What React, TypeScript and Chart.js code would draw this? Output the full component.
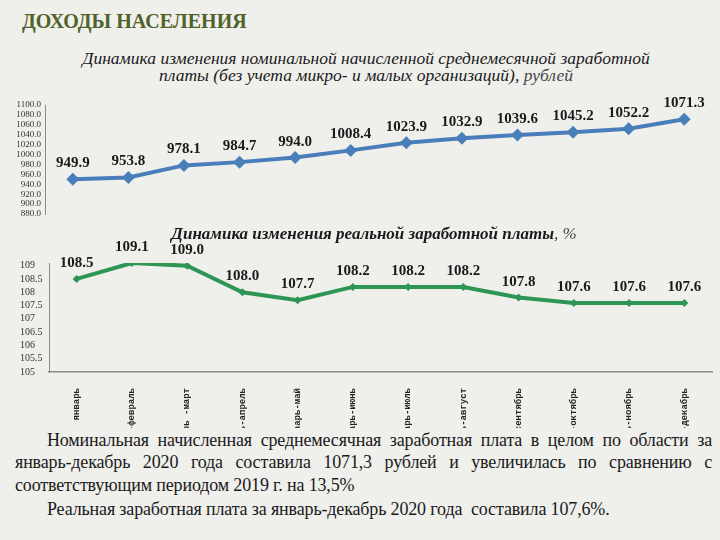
import React, { useEffect, useRef } from "react";
import { Chart, registerables } from "chart.js";

Chart.register(...registerables);

const categories = [
  "январь",
  "январь -февраль",
  "январь -март",
  "январь-апрель",
  "январь-май",
  "январь-июнь",
  "январь-июль",
  "январь-август",
  "январь-сентябрь",
  "январь-октябрь",
  "январь-ноябрь",
  "январь-декабрь",
];
const nominalWage = [949.9, 953.8, 978.1, 984.7, 994.0, 1008.4, 1023.9, 1032.9, 1039.6, 1045.2, 1052.2, 1071.3];
const realWage = [108.5, 109.1, 109.0, 108.0, 107.7, 108.2, 108.2, 108.2, 107.8, 107.6, 107.6, 107.6];

const BG = "#efefec";
const SERIF = "'Liberation Serif', 'Times New Roman', serif";

const valueLabels = {
  id: "valueLabels",
  afterDatasetsDraw(chart: any) {
    const ctx = chart.ctx;
    ctx.save();
    ctx.font = `bold 15px ${SERIF}`;
    ctx.fillStyle = "#1a1a1a";
    ctx.textAlign = "center";
    ctx.textBaseline = "alphabetic";
    chart.data.datasets.forEach((ds: any, di: number) => {
      const meta = chart.getDatasetMeta(di);
      meta.data.forEach((pt: any, i: number) => {
        ctx.fillText(Number(ds.data[i]).toFixed(1), pt.x, pt.y - 12);
      });
    });
    ctx.restore();
  },
};

function NominalChart() {
  const ref = useRef<HTMLCanvasElement>(null);
  useEffect(() => {
    const chart = new Chart(ref.current!, {
      type: "line",
      data: {
        labels: categories,
        datasets: [
          {
            data: nominalWage,
            borderColor: "#4a7ebb",
            backgroundColor: "#4a7ebb",
            borderWidth: 4,
            pointStyle: "rectRot",
            pointRadius: 6.5,
            pointBorderWidth: 0,
            tension: 0,
          },
        ],
      },
      options: {
        animation: false,
        responsive: false,
        layout: { padding: { top: 15, bottom: 11, left: 0, right: 8 } },
        plugins: { legend: { display: false }, tooltip: { enabled: false } },
        scales: {
          x: { display: false, offset: true },
          y: {
            min: 880,
            max: 1100,
            afterFit: (s: any) => {
              s.width = 45;
            },
            ticks: {
              stepSize: 20,
              autoSkip: false,
              padding: 4,
              color: "#333",
              font: { family: SERIF, size: 9 },
              callback: (v: any) => Number(v).toFixed(1),
            },
            grid: { display: false, drawTicks: false },
            border: { display: true, color: "#8a8a8a", width: 1 },
          },
        },
      },
      plugins: [valueLabels],
    });
    return () => chart.destroy();
  }, []);
  return (
    <canvas
      ref={ref}
      width={720}
      height={135}
      style={{ position: "absolute", left: 0, top: 90, width: 720, height: 135 }}
    />
  );
}

function RealChart() {
  const ref = useRef<HTMLCanvasElement>(null);
  useEffect(() => {
    const chart = new Chart(ref.current!, {
      type: "line",
      data: {
        labels: categories,
        datasets: [
          {
            data: realWage,
            borderColor: "#2e9655",
            backgroundColor: "#2e9655",
            borderWidth: 4,
            pointStyle: "rectRot",
            pointRadius: 4,
            pointBorderWidth: 0,
            tension: 0,
          },
        ],
      },
      options: {
        animation: false,
        responsive: false,
        layout: { padding: { top: 28, bottom: 0, left: 20, right: 8 } },
        plugins: { legend: { display: false }, tooltip: { enabled: false } },
        scales: {
          x: {
            offset: true,
            afterFit: (s: any) => {
              s.height = 68;
            },
            ticks: {
              autoSkip: false,
              maxRotation: 90,
              minRotation: 90,
              padding: 16,
              color: "#222",
              font: { family: "'Liberation Mono', 'DejaVu Sans Mono', monospace", size: 9, weight: "bold" },
            },
            grid: { display: false, drawTicks: false },
            border: { display: true, color: "#8a8a8a", width: 1.5 },
          },
          y: {
            min: 105,
            max: 109.1,
            afterFit: (s: any) => {
              s.width = 29;
            },
            ticks: {
              stepSize: 0.5,
              includeBounds: false,
              autoSkip: false,
              crossAlign: "far",
              padding: 4,
              color: "#333",
              font: { family: SERIF, size: 10 },
              callback: (v: any) => String(v),
            },
            grid: { display: false, drawTicks: false },
            border: { display: true, color: "#8a8a8a", width: 1 },
          },
        },
      },
      plugins: [valueLabels],
    });
    return () => chart.destroy();
  }, []);
  return (
    <canvas
      ref={ref}
      width={720}
      height={205}
      style={{ position: "absolute", left: 0, top: 235, width: 720, height: 205 }}
    />
  );
}

export default function App() {
  useEffect(() => {
    document.body.style.margin = "0";
    document.body.style.background = BG;
  }, []);
  const textLine: React.CSSProperties = {
    position: "absolute",
    whiteSpace: "nowrap",
    fontFamily: SERIF,
    fontSize: 18,
    letterSpacing: "-0.15px",
    color: "#1a1a1a",
    lineHeight: "20px",
  };
  const justified: React.CSSProperties = {
    ...textLine,
    whiteSpace: "normal",
    textAlign: "justify",
    textAlignLast: "justify" as any,
  };
  return (
    <div
      style={{
        position: "absolute",
        left: 0,
        top: 0,
        width: 720,
        height: 540,
        background: BG,
        overflow: "hidden",
        fontFamily: SERIF,
      }}
    >
      <div
        style={{
          position: "absolute",
          left: 22,
          top: 8,
          fontSize: 22,
          fontWeight: "bold",
          color: "#4f6228",
          whiteSpace: "nowrap",
          transform: "scaleX(0.91)",
          transformOrigin: "left top",
        }}
      >
        ДОХОДЫ НАСЕЛЕНИЯ
      </div>
      <div
        style={{
          position: "absolute",
          left: 0,
          top: 50,
          width: 732,
          textAlign: "center",
          fontStyle: "italic",
          fontSize: 17.5,
          lineHeight: "17px",
          color: "#1a1a1a",
        }}
      >
        Динамика изменения номинальной начисленной среднемесячной заработной
        <br />
        платы (без учета микро- и малых организаций), <span style={{ color: "#444" }}>рублей</span>
      </div>
      <NominalChart />
      <RealChart />
      <div
        style={{
          position: "absolute",
          left: 0,
          top: 224,
          width: 748,
          textAlign: "center",
          fontStyle: "italic",
          fontWeight: "bold",
          fontSize: 17,
          color: "#1a1a1a",
          whiteSpace: "nowrap",
        }}
      >
        Динамика изменения реальной заработной платы<span style={{ fontWeight: "normal", color: "#444" }}>, %</span>
      </div>
      <div style={{ position: "absolute", left: 0, top: 428, width: 720, height: 112, background: BG }} />
      <div style={{ ...justified, left: 47, top: 430, width: 665 }}>
        Номинальная начисленная среднемесячная заработная плата в целом по области за
      </div>
      <div style={{ ...justified, left: 15, top: 452, width: 697 }}>
        январь-декабрь 2020 года составила 1071,3 рублей и увеличилась по сравнению с
      </div>
      <div style={{ ...textLine, left: 15, top: 475 }}>соответствующим периодом 2019 г. на 13,5%</div>
      <div style={{ ...textLine, left: 47, top: 499 }}>
        Реальная заработная плата за январь-декабрь 2020 года&nbsp; составила 107,6%.
      </div>
    </div>
  );
}
